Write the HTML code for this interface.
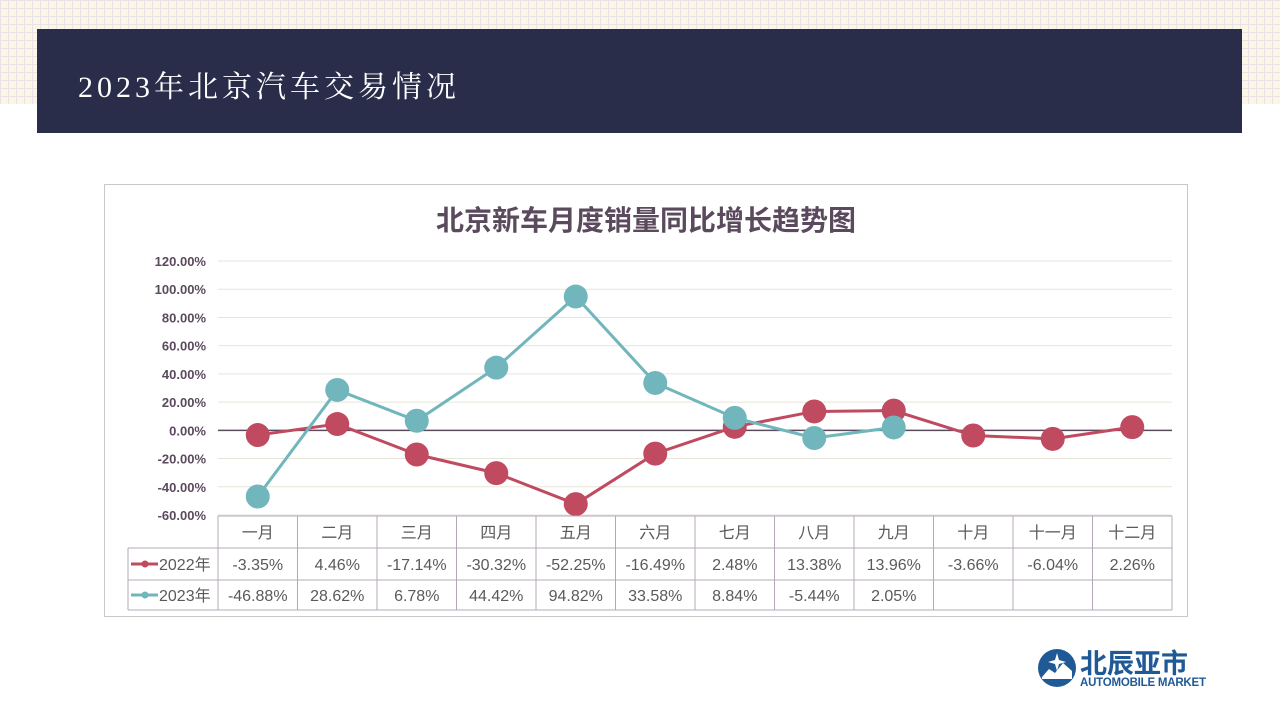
<!DOCTYPE html>
<html><head><meta charset="utf-8"><style>
body{margin:0;width:1280px;height:720px;background:#fff;position:relative;overflow:hidden;font-family:"Liberation Sans","Noto Sans CJK SC",sans-serif}
#grid{position:absolute;left:0;top:0;width:1280px;height:104px;background-color:#fcf6e6;background-image:linear-gradient(#e9e2e6 1px,transparent 1px),linear-gradient(90deg,#e9e2e6 1px,transparent 1px);background-size:8px 8px}
#hdr{position:absolute;left:37px;top:29px;width:1205px;height:104px;background:#2a2d4a}
#hdr span{position:absolute;left:41px;top:33px;color:#fff;font-size:30px;font-family:"Liberation Serif","Noto Serif CJK SC",serif;letter-spacing:4px}
#box{position:absolute;left:104px;top:184px;width:1082px;height:431px;border:1px solid #c8c8c8}
#logo{position:absolute;left:1037px;top:647px}
</style></head><body>
<div id="grid"></div>
<div id="hdr"><span>2023年北京汽车交易情况</span></div>
<div id="box"></div>
<svg id="chart" width="1280" height="720" style="position:absolute;left:0;top:0"></svg>
<div id="logo">
<svg width="175" height="42"><circle cx="20" cy="21" r="19" fill="#1f5a96"/><path d="M5 30 L12 22 L18 26 L26 16 L35 24 L35 32 L5 32Z" fill="#fff"/><path d="M20 6 L22 13 L29 15 L22 17 L20 24 L18 17 L11 15 L18 13Z" fill="#fff"/>
<text x="43" y="26" font-size="27" font-weight="bold" fill="#1f5a96" font-family="Noto Sans CJK SC,sans-serif">北辰亚市</text>
<text x="43" y="39" font-size="11.5" font-weight="bold" fill="#1f5a96" font-family="Liberation Sans,sans-serif" textLength="126">AUTOMOBILE MARKET</text></svg></div>
<script>
const months=["一月","二月","三月","四月","五月","六月","七月","八月","九月","十月","十一月","十二月"];
const series2022=[-3.35,4.46,-17.14,-30.32,-52.25,-16.49,2.48,13.38,13.96,-3.66,-6.04,2.26];
const series2023=[-46.88,28.62,6.78,44.42,94.82,33.58,8.84,-5.44,2.05];
const yTicks=[120,100,80,60,40,20,0,-20,-40,-60];
const seriesNames=["2022年","2023年"];
const colors=["#c04a60","#71b6bc"];
const svg=document.getElementById('chart');const NS="http://www.w3.org/2000/svg";
const x0=218,x1=1172,yTop=261,yBot=515;
const cw=(x1-x0)/months.length;
const X=i=>x0+cw*(i+0.5);
const Y=v=>yTop+(120-v)/180*(yBot-yTop);
function el(t,a,p){const e=document.createElementNS(NS,t);for(const k in a)e.setAttribute(k,a[k]);(p||svg).appendChild(e);return e;}
let t=el('text',{x:646,y:230,'text-anchor':'middle','font-size':28,'font-weight':'bold',fill:'#5b4a5e'});t.textContent="北京新车月度销量同比增长趋势图";


yTicks.forEach(v=>{
 const g=el('line',{x1:x0,x2:x1,y1:Y(v),y2:Y(v),stroke:v===0?'#5b4a5e':'#e6e6d8','stroke-width':v===0?1.5:1});
 
 
 const l=el('text',{x:206,y:Y(v)+5,'text-anchor':'end','font-size':13,'font-weight':'bold',fill:'#5b4a5e'});l.textContent=v.toFixed(2)+"%";
 
 
});
function drawSeries(vals,c,name){
 const pts=vals.map((v,i)=>X(i)+","+Y(v)).join(" ");
 const p=el('polyline',{points:pts,fill:'none',stroke:c,'stroke-width':3});
 
 
 vals.forEach((v,i)=>{const m=el('circle',{cx:X(i),cy:Y(v),r:12,fill:c});
 
 });
}
drawSeries(series2022,colors[0],'series-2022');
drawSeries(series2023,colors[1],'series-2023');
const rows=[516,548,580,610];const tc='#b4a8b8';
el('line',{x1:x0,x2:x1,y1:rows[0],y2:rows[0],stroke:tc});
for(let r=1;r<4;r++)el('line',{x1:128,x2:x1,y1:rows[r],y2:rows[r],stroke:tc});
el('line',{x1:128,x2:128,y1:rows[1],y2:rows[3],stroke:tc});
for(let i=0;i<=months.length;i++)el('line',{x1:x0+cw*i,x2:x0+cw*i,y1:rows[0],y2:rows[3],stroke:tc});
months.forEach((m,i)=>{const e=el('text',{x:X(i),y:538,'text-anchor':'middle','font-size':16,fill:'#5a5a5a'});e.textContent=m;
 
 });
[series2022,series2023].forEach((s,r)=>{
 const cy=(rows[r+1]+rows[r+2])/2;
 el('line',{x1:131,x2:158,y1:cy,y2:cy,stroke:colors[r],'stroke-width':3});
 el('circle',{cx:145,cy:cy,r:3.5,fill:colors[r]});
 const n=el('text',{x:159,y:cy+6,'font-size':16,fill:'#5a5a5a'});n.textContent=seriesNames[r];
 
 
 s.forEach((v,i)=>{const e=el('text',{x:X(i),y:cy+6,'text-anchor':'middle','font-size':16,fill:'#5a5a5a'});e.textContent=v.toFixed(2)+"%";
 
 });
});
</script>
</body></html>
